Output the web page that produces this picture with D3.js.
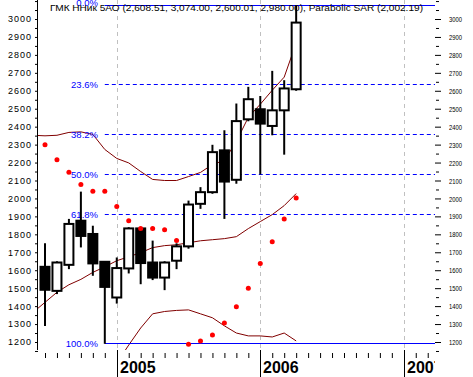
<!DOCTYPE html>
<html lang="en">
<head>
<meta charset="UTF-8">
<title>ГМК НорНик monthly</title>
<script src="https://cdn.jsdelivr.net/npm/d3@7"></script>
<style>
  body { margin: 0; background: #fff; }
  svg { display: block; }
</style>
</head>
<body>
<script>
    // size of the window
    var w = 473;
    var h = 377;

    // monthly candles, Jul 2004 .. Apr 2006
    var months = ["2004-07", "2004-08", "2004-09", "2004-10", "2004-11", "2004-12",
                  "2005-01", "2005-02", "2005-03", "2005-04", "2005-05", "2005-06",
                  "2005-07", "2005-08", "2005-09", "2005-10", "2005-11", "2005-12",
                  "2006-01", "2006-02", "2006-03", "2006-04"];
    var opens  = [1619, 1485, 1630, 1876, 1802, 1647, 1448, 1610, 1833, 1643, 1559, 1653,
                  1733, 1970, 2035, 2268, 2104, 2441, 2497, 2404, 2491, 2608.51];
    var highs  = [1750, 1650, 1886, 2038, 1848, 1650, 1671, 1840, 1840, 1765, 1650, 1750,
                  1988, 2063, 2299, 2380, 2529, 2622, 2571, 2711, 2659, 3074];
    var lows   = [1289, 1467, 1606, 1727, 1569, 1190, 1414, 1582, 1522, 1545, 1489, 1606,
                  1720, 1942, 2026, 1886, 2082, 2430, 2134, 2352, 2244, 2600.01];
    var closes = [1491, 1643, 1858, 1791, 1638, 1507, 1612, 1833, 1640, 1559, 1643, 1733,
                  1966, 2035, 2258, 2094, 2431, 2553, 2417, 2491, 2613, 2980];

    // parabolic SAR, same months
    var sar = [2299, 2216, 2146, 2078, 2040, 2040, 1955, 1876, 1833, 1833, 1826, 1765,
               1187, 1206, 1239, 1306, 1396, 1500, 1638, 1759, 1886, 2002.19];

    // bands start one month earlier (Jun 2004)
    var bandMonths = ["2004-06"].concat(months);
    var bandUpper  = [2352, 2349, 2352, 2368, 2371, 2357, 2273, 2223, 2198, 2150, 2106, 2100,
                      2100, 2122, 2145, 2189, 2212, 2318, 2452, 2525, 2603, 2676, 2866];
    var bandMiddle = [1365, 1421, 1477, 1519, 1549, 1588, 1619, 1653, 1675, 1698, 1726, 1737,
                      1742, 1753, 1764, 1770, 1776, 1787, 1832, 1871, 1910, 1960, 2027];
    var bandLower  = [null, null, null, null, null, null, 960, 1083, 1183, 1278, 1357, 1370,
                      1376, 1379, 1357, 1335, 1290, 1250, 1234, 1234, 1228, 1250, 1206];

    // fibonacci retracement
    var fibLevels = [0, 0.236, 0.382, 0.5, 0.618, 1];
    var fibLabels = ["0.0%", "23.6%", "38.2%", "50.0%", "61.8%", "100.0%"];

    var yearLabels = ["2005", "2006", "2007"];
    var title = "ГМК ННик 5АО (2,608.51, 3,074.00, 2,600.01, 2,980.00), Parabolic SAR (2,002.19)";

    // plot area
    var pLeft = 38, pRight = 435, pTop = 0, pBottom = 350;

    // month index counted from Jul 2004
    function mi(s) {
        var p = s.split("-");
        return (+p[0] - 2004) * 12 + (+p[1] - 7);
    }

    var x = d3.scaleLinear().domain([0, 30]).range([45, 403.8]);
    var y = d3.scaleLinear().domain([1200, 3000]).range([342, 19]);

    var svg = d3.select("body")
                .append("svg")
                .attr("width", w)
                .attr("height", h)
                .style("font-family", "'Liberation Sans', Arial, sans-serif");

    var defs = svg.append("defs");
    defs.append("clipPath").attr("id", "plot")
        .append("rect")
        .attr("x", pLeft).attr("y", pTop)
        .attr("width", pRight - pLeft).attr("height", pBottom - pTop);
    defs.append("clipPath").attr("id", "xlab")
        .append("rect")
        .attr("x", 0).attr("y", pBottom)
        .attr("width", pRight).attr("height", h - pBottom);

    //year grid lines
    var yearIdx = [6, 18, 30];
    svg.selectAll("line.grid")
        .data(yearIdx)
        .enter()
        .append("line")
        .attr("class", "grid")
        .attr("x1", function(d) { return Math.round(x(d)) + 0.5; })
        .attr("x2", function(d) { return Math.round(x(d)) + 0.5; })
        .attr("y1", pTop).attr("y2", pBottom)
        .attr("stroke", "#c0c0c0")
        .attr("stroke-dasharray", "4,4");

    var plot = svg.append("g").attr("clip-path", "url(#plot)");

    // bands
    var bandLine = function(vals) {
        return d3.line()
            .defined(function(d) { return d !== null; })
            .x(function(d, i) { return x(mi(bandMonths[i])); })
            .y(function(d) { return y(d); })(vals);
    };
    [bandUpper, bandMiddle, bandLower].forEach(function(vals) {
        plot.append("path")
            .attr("d", bandLine(vals))
            .attr("fill", "none")
            .attr("stroke", "#800000")
            .attr("stroke-width", 1);
    });

    // fib lines (snapped to whole pixel rows)
    var hi = d3.max(highs), lo = d3.min(lows);
    var fibStart = x(mi(months[lows.indexOf(lo)]));
    var fibY = function(d) { return Math.floor(y(hi - d * (hi - lo)) - 0.55) + 0.5; };
    plot.selectAll("line.fib")
        .data(fibLevels)
        .enter()
        .append("line")
        .attr("class", "fib")
        .attr("x1", fibStart).attr("x2", pRight)
        .attr("y1", fibY)
        .attr("y2", fibY)
        .attr("stroke", "#0000ff")
        .attr("stroke-dasharray", function(d) { return (d === 0 || d === 1) ? null : "4,3"; });

    plot.selectAll("text.fib")
        .data(fibLevels)
        .enter()
        .append("text")
        .attr("class", "fib")
        .attr("x", 98)
        .attr("y", function(d) { return fibY(d) + (d === 0 ? 0.5 : 3.5); })
        .attr("text-anchor", "end")
        .attr("font-size", "9.5px")
        .attr("fill", "#0000ff")
        .text(function(d, i) { return fibLabels[i]; });

    // candles
    var candles = plot.selectAll("g.candle")
        .data(months)
        .enter()
        .append("g")
        .attr("class", "candle");

    candles.append("line")
        .attr("x1", function(d) { return x(mi(d)); })
        .attr("x2", function(d) { return x(mi(d)); })
        .attr("y1", function(d, i) { return y(highs[i]); })
        .attr("y2", function(d, i) { return y(lows[i]); })
        .attr("stroke", "#000")
        .attr("stroke-width", 2);

    candles.append("rect")
        .attr("x", function(d) { return x(mi(d)) - 4.5; })
        .attr("width", 9)
        .attr("y", function(d, i) { return y(Math.max(opens[i], closes[i])); })
        .attr("height", function(d, i) { return Math.max(1, Math.abs(y(opens[i]) - y(closes[i]))); })
        .attr("fill", function(d, i) { return closes[i] < opens[i] ? "#000" : "#fff"; })
        .attr("stroke", "#000")
        .attr("stroke-width", 2);

    // SAR dots
    plot.selectAll("circle.sar")
        .data(sar)
        .enter()
        .append("circle")
        .attr("class", "sar")
        .attr("cx", function(d, i) { return x(mi(months[i])); })
        .attr("cy", function(d) { return y(d); })
        .attr("r", 2.5)
        .attr("fill", "#ff0000");

    // left axis
    var ticks50 = d3.range(1150, 3101, 50);
    var labelled = function(d) { return d % 100 === 0 && d >= 1200 && d <= 3000; };
    var la = svg.append("g")
        .attr("transform", "translate(" + pLeft + ",0)")
        .call(d3.axisLeft(y).tickValues(ticks50).tickSize(3).tickPadding(4)
              .tickFormat(function(d) { return labelled(d) ? d : ""; }));
    la.select(".domain").remove();
    la.append("line").attr("x1", -0.5).attr("x2", -0.5).attr("y1", pTop).attr("y2", pBottom)
        .attr("stroke", "#000");
    la.selectAll("text")
        .attr("font-size", "9px")
        .attr("font-family", "'Liberation Sans', Arial, sans-serif")
        .attr("fill", "#000")
        .attr("textLength", function(d) { return labelled(d) ? 23 : null; })
        .attr("lengthAdjust", "spacing");

    // right axis
    var ra = svg.append("g")
        .attr("transform", "translate(" + pRight + ",0)")
        .call(d3.axisRight(y).tickValues(ticks50.filter(labelled)).tickSize(6).tickPadding(8)
              .tickFormat(function(d) { return d; }));
    ra.select(".domain").remove();
    ra.selectAll("text")
        .attr("font-size", "8px")
        .attr("font-family", "'Liberation Sans', Arial, sans-serif")
        .attr("fill", "#000")
        .attr("textLength", 13)
        .attr("lengthAdjust", "spacingAndGlyphs");
    var ram = svg.append("g")
        .attr("transform", "translate(" + (pRight + 1) + ",0)")
        .call(d3.axisRight(y).tickValues(ticks50.filter(function(d) { return !labelled(d); }))
              .tickSize(3).tickFormat(""));
    ram.select(".domain").remove();

    // bottom axis: month ticks
    var monthTicks = d3.range(0, 33).filter(function(d) { return yearIdx.indexOf(d) < 0; });
    var ba = svg.append("g")
        .attr("transform", "translate(0," + (pBottom + 3) + ")")
        .call(d3.axisBottom(x).tickValues(monthTicks).tickSize(5).tickFormat(""));
    ba.select(".domain").remove();

    svg.selectAll("line.year")
        .data(yearIdx)
        .enter()
        .append("line")
        .attr("class", "year")
        .attr("x1", function(d) { return Math.round(x(d)) + 0.5; })
        .attr("x2", function(d) { return Math.round(x(d)) + 0.5; })
        .attr("y1", pBottom).attr("y2", h)
        .attr("stroke", "#000");

    svg.append("g").attr("clip-path", "url(#xlab)")
        .selectAll("text.year")
        .data(yearIdx)
        .enter()
        .append("text")
        .attr("class", "year")
        .attr("x", function(d) { return Math.round(x(d)) + 3; })
        .attr("y", 373)
        .attr("font-size", "16px")
        .attr("font-weight", "bold")
        .text(function(d, i) { return yearLabels[i]; });

    // title
    svg.append("text")
        .attr("x", 50)
        .attr("y", 11)
        .attr("font-size", "9px")
        .attr("textLength", 373)
        .attr("lengthAdjust", "spacingAndGlyphs")
        .text(title);
</script>
</body>
</html>
